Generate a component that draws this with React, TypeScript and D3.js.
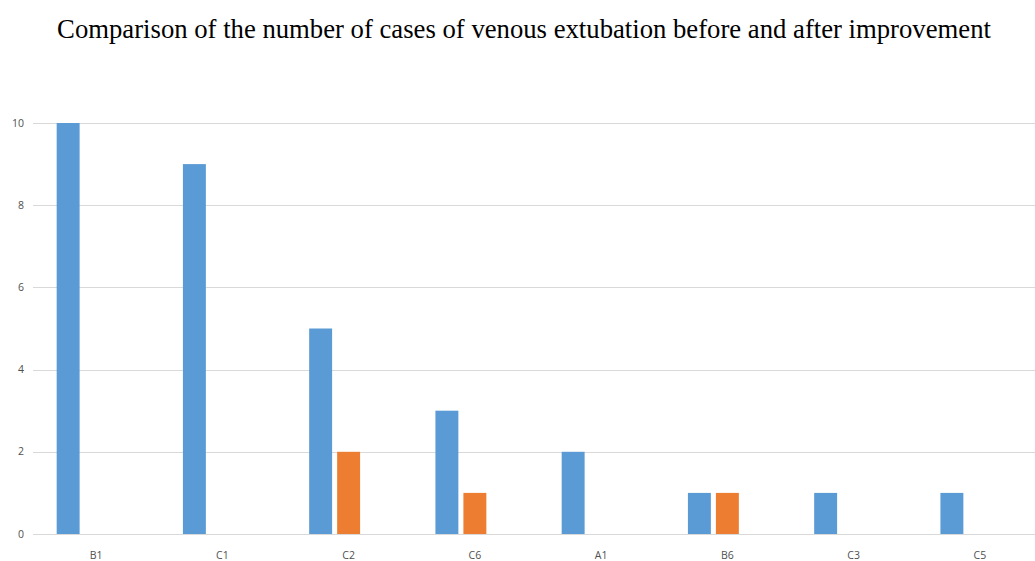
import { useEffect, useRef } from "react";
import * as d3 from "d3";

const categories = ["B1", "C1", "C2", "C6", "A1", "B6", "C3", "C5"];
const beforeValues = [10, 9, 5, 3, 2, 1, 1, 1];
const afterValues = [0, 0, 2, 1, 0, 1, 0, 0];
const seriesNames = ["Before", "After", "Blank"];
const yTicks = [0, 2, 4, 6, 8, 10];
const title = "Comparison of the number of cases of venous extubation before and after improvement";

export default function App() {
  const ref = useRef<SVGSVGElement>(null);

  useEffect(() => {
    const width = 1035;
    const height = 561;
    const margin = { left: 33, right: -8, top: 123, bottom: 27 };

    const svg = d3.select(ref.current);
    svg.selectAll("*").remove();

    const x0 = d3
      .scaleBand()
      .domain(categories)
      .range([margin.left, width - margin.right])
      .paddingInner(0.375)
      .paddingOuter(0.1875);

    const x1 = d3
      .scaleBand()
      .domain(seriesNames)
      .range([0, x0.bandwidth()])
      .paddingInner(0.18);

    const y = d3
      .scaleLinear()
      .domain([0, 10])
      .range([height - margin.bottom, margin.top]);

    svg
      .append("text")
      .attr("x", 524)
      .attr("y", 38)
      .attr("text-anchor", "middle")
      .attr("font-family", "'Liberation Serif', 'Times New Roman', serif")
      .attr("font-size", 26.7)
      .attr("fill", "#000")
      .text(title);

    const grid = svg.append("g");
    grid
      .selectAll("line")
      .data(yTicks)
      .join("line")
      .attr("x1", margin.left)
      .attr("x2", width)
      .attr("y1", (d) => Math.round(y(d)) + 0.5)
      .attr("y2", (d) => Math.round(y(d)) + 0.5)
      .attr("stroke", "#d9d9d9")
      .attr("stroke-width", 1);

    grid
      .selectAll("text")
      .data(yTicks)
      .join("text")
      .attr("x", 24)
      .attr("y", (d) => y(d))
      .attr("dy", "0.35em")
      .attr("text-anchor", "end")
      .attr("font-family", "'Open Sans', sans-serif")
      .attr("font-size", 10.5)
      .attr("fill", "#505050")
      .text((d) => d);

    const series = [
      { name: "Before", values: beforeValues, color: "#5b9bd5" },
      { name: "After", values: afterValues, color: "#ed7d31" },
    ];

    const groups = svg
      .append("g")
      .selectAll("g")
      .data(categories)
      .join("g")
      .attr("transform", (d) => `translate(${x0(d)},0)`);

    groups
      .selectAll("rect")
      .data((_, i) => series.map((s) => ({ name: s.name, value: s.values[i], color: s.color })))
      .join("rect")
      .attr("x", (d) => x1(d.name)!)
      .attr("width", x1.bandwidth())
      .attr("y", (d) => y(d.value))
      .attr("height", (d) => y(0) - y(d.value))
      .attr("fill", (d) => d.color);

    svg
      .append("g")
      .selectAll("text")
      .data(categories)
      .join("text")
      .attr("x", (d) => x0(d)! + x0.bandwidth() / 2)
      .attr("y", 555)
      .attr("dy", "0.35em")
      .attr("text-anchor", "middle")
      .attr("font-family", "'Open Sans', sans-serif")
      .attr("font-size", 10.5)
      .attr("fill", "#505050")
      .text((d) => d);
  }, []);

  return (
    <svg
      ref={ref}
      width={1035}
      height={561}
      style={{ position: "absolute", left: 0, top: 0, background: "#fff" }}
    />
  );
}
